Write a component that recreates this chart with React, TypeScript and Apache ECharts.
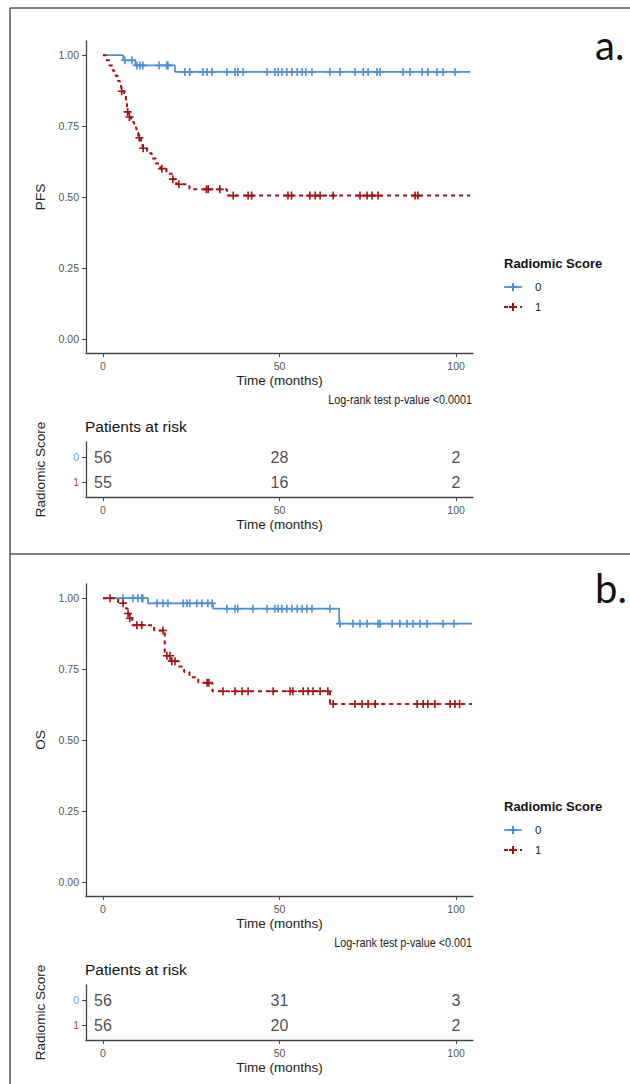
import { useEffect, useRef } from "react";
import * as echarts from "echarts";

// ---------- data ----------
const X_TICKS = [0, 50, 100];
const Y_TICKS = [0, 0.25, 0.5, 0.75, 1];
const RISK_TIMES = [0, 50, 100];
const GROUP_LABELS = ["0", "1"];

// PFS, Radiomic Score 0
const pfs0Times = [0, 5.7, 9.2, 20.4, 104];
const pfs0Surv = [1, 0.982, 0.964, 0.941, 0.941];
const pfs0Cens = [6.2, 8.2, 9.6, 10.5, 11.3, 15.9, 18.1, 18.4, 23.2, 24.6, 28.3, 29.5, 30.9, 35.1, 37.4, 38.2, 39.7, 46.5, 48.7, 49.6, 50.7, 52.1, 53.5, 55, 56.4, 57.5, 59.2, 64.3, 67.1, 71.4, 73.7, 75.1, 77.6, 78.5, 85, 87, 90.4, 92, 94.6, 96.3, 99.7];
// PFS, Radiomic Score 1
const pfs1Times = [0, 0.8, 1.8, 2.8, 3.6, 4.3, 4.8, 5.2, 6.0, 6.5, 6.8, 6.95, 7.3, 8.0, 8.8, 9.5, 10.0, 10.8, 11.2, 12.5, 13.8, 15.0, 16.3, 18.0, 19.5, 20.8, 24.5, 35.1, 104];
const pfs1Surv = [1, 0.982, 0.964, 0.945, 0.927, 0.909, 0.891, 0.873, 0.855, 0.836, 0.818, 0.8, 0.782, 0.764, 0.745, 0.727, 0.709, 0.69, 0.672, 0.654, 0.636, 0.618, 0.6, 0.582, 0.563, 0.545, 0.527, 0.505, 0.505];
const pfs1Cens = [5.3, 7.0, 7.5, 10.3, 11.4, 16.7, 19.8, 21.5, 29.3, 29.8, 33.1, 36.9, 41.1, 42.1, 52.4, 53.4, 58.6, 60.1, 61.5, 65.2, 72.8, 74.8, 76.2, 77.9, 88.4, 89.2];
const pfsRisk0 = [56, 28, 2];
const pfsRisk1 = [55, 16, 2];

// OS, Radiomic Score 0
const os0Times = [0, 12.8, 31.2, 66.9, 104.5];
const os0Surv = [1, 0.982, 0.963, 0.91, 0.91];
const os0Cens = [5.7, 8.5, 9.9, 11, 11.3, 15.3, 17, 18.4, 22.7, 23.8, 24.6, 26.6, 28, 29.7, 30.9, 35.1, 37.4, 38.2, 42.5, 46.5, 48.7, 49.6, 50.7, 52.1, 53.5, 55, 56.4, 57.8, 59.2, 64.3, 67.1, 70.8, 72.8, 74.8, 77.9, 78.5, 81.9, 84.1, 86.1, 87.8, 89.8, 91.8, 96.3, 99.4];
// OS, Radiomic Score 1
const os1Times = [0, 4.3, 6.5, 7.0, 7.5, 8.3, 14.5, 17.5, 19.3, 21.5, 23, 24.5, 27, 31, 64.3, 104.5];
const os1Surv = [1, 0.982, 0.964, 0.946, 0.929, 0.905, 0.886, 0.797, 0.778, 0.759, 0.74, 0.721, 0.702, 0.672, 0.627, 0.627];
const os1Cens = [2, 5.7, 7.1, 7.6, 9.6, 11, 17, 18.1, 19, 19.5, 20.4, 29.5, 30, 34, 37.4, 39.4, 41.1, 48.2, 53, 53.8, 56.7, 58.1, 59.5, 61.5, 63.7, 65.2, 71.4, 73.4, 75.1, 77.1, 89, 90.7, 92, 94, 98.3, 99.7, 101];
const osRisk0 = [56, 31, 3];
const osRisk1 = [56, 20, 2];

// ---------- styling ----------
const FONT = '"Liberation Sans", Arial, Helvetica, sans-serif';
const BLUE = "#4a8fd3";
const RED = "#a01212";
const AXIS = "#444";
const TICKTXT = "#555";
const PLUS = "path://M4,0 H6 V4 H10 V6 H6 V10 H4 V6 H0 V4 H4 Z";
const PANEL_OFFSET = 543;

function survAt(times: number[], surv: number[], t: number) {
  let s = surv[0];
  for (let i = 0; i < times.length; i++) if (times[i] <= t) s = surv[i];
  return s;
}

function xAxisCfg(gridIndex: number) {
  return {
    gridIndex,
    type: "value",
    min: -4.8,
    max: 104.8,
    name: "Time (months)",
    nameLocation: "middle",
    nameGap: 20,
    nameTextStyle: { fontSize: 13.5, color: "#222", fontFamily: FONT },
    axisLine: { show: true, onZero: false, lineStyle: { color: AXIS, width: 1.3 } },
    axisTick: { show: true, length: 4, customValues: X_TICKS, lineStyle: { color: AXIS, width: 1 } },
    axisLabel: { customValues: X_TICKS, fontSize: 10.5, color: TICKTXT, fontFamily: FONT, margin: 7 },
    splitLine: { show: false },
  };
}

function buildPanel(
  k: number,
  yName: string,
  t0: number[], s0: number[], c0: number[],
  t1: number[], s1: number[], c1: number[],
  r0: number[], r1: number[]
) {
  const off = k * PANEL_OFFSET;
  const gMain = k * 2;
  const gRisk = k * 2 + 1;
  const grids = [
    { left: 86, top: 41 + off, width: 387, height: 312 },
    { left: 86, top: 442 + off, width: 387, height: 55 },
  ];
  const xAxes = [xAxisCfg(gMain), xAxisCfg(gRisk)];
  const yAxes = [
    {
      gridIndex: gMain,
      type: "value",
      min: -0.05,
      max: 1.05,
      name: yName,
      nameLocation: "middle",
      nameGap: 39,
      nameTextStyle: { fontSize: 13.5, color: "#222", fontFamily: FONT },
      axisLine: { show: true, onZero: false, lineStyle: { color: AXIS, width: 1.3 } },
      axisTick: { show: true, length: 4, customValues: Y_TICKS, lineStyle: { color: AXIS, width: 1 } },
      axisLabel: {
        customValues: Y_TICKS,
        formatter: (v: number) => v.toFixed(2),
        fontSize: 10.5,
        color: TICKTXT,
        fontFamily: FONT,
        margin: 7,
      },
      splitLine: { show: false },
    },
    {
      gridIndex: gRisk,
      type: "value",
      min: 0.4,
      max: 2.6,
      name: "Radiomic Score",
      nameLocation: "middle",
      nameGap: 39,
      nameTextStyle: { fontSize: 13.5, color: "#222", fontFamily: FONT },
      axisLine: { show: true, onZero: false, lineStyle: { color: AXIS, width: 1.3 } },
      axisTick: { show: true, length: 4, customValues: [1, 2], lineStyle: { color: AXIS, width: 1 } },
      axisLabel: {
        customValues: [1, 2],
        formatter: (v: number) => (v === 2 ? "{a|" + GROUP_LABELS[0] + "}" : "{b|" + GROUP_LABELS[1] + "}"),
        margin: 7,
        rich: {
          a: { color: "#6aa5dc", fontSize: 10.5, fontFamily: FONT },
          b: { color: "#c0392b", fontSize: 10.5, fontFamily: FONT },
        },
      },
      splitLine: { show: false },
    },
  ];
  const riskLabel = {
    show: true,
    position: "inside",
    formatter: (p: any) => String(p.value[2]),
    fontSize: 16,
    color: "#1a1a1a",
    fontFamily: FONT,
  };
  const series: any[] = [
    {
      type: "line", xAxisIndex: gMain, yAxisIndex: gMain, step: "end", showSymbol: false,
      data: t0.map((t, i) => [t, s0[i]]),
      lineStyle: { color: BLUE, width: 1.7, type: "solid" }, z: 3,
    },
    {
      type: "line", xAxisIndex: gMain, yAxisIndex: gMain, step: "end", showSymbol: false,
      data: t1.map((t, i) => [t, s1[i]]),
      lineStyle: { color: RED, width: 2, type: [4, 4] }, z: 3,
    },
    {
      type: "scatter", xAxisIndex: gMain, yAxisIndex: gMain, symbol: PLUS, symbolSize: 8,
      data: c0.map((t) => [t, survAt(t0, s0, t)]),
      itemStyle: { color: BLUE, opacity: 1 }, z: 4,
    },
    {
      type: "scatter", xAxisIndex: gMain, yAxisIndex: gMain, symbol: PLUS, symbolSize: 8,
      data: c1.map((t) => [t, survAt(t1, s1, t)]),
      itemStyle: { color: RED, opacity: 1 }, z: 4,
    },
    {
      type: "scatter", xAxisIndex: gRisk, yAxisIndex: gRisk, symbolSize: 1,
      itemStyle: { color: "rgba(0,0,0,0)" },
      data: RISK_TIMES.map((t, i) => [t, 2, r0[i]]),
      label: riskLabel,
    },
    {
      type: "scatter", xAxisIndex: gRisk, yAxisIndex: gRisk, symbolSize: 1,
      itemStyle: { color: "rgba(0,0,0,0)" },
      data: RISK_TIMES.map((t, i) => [t, 1, r1[i]]),
      label: riskLabel,
    },
  ];
  return { grids, xAxes, yAxes, series };
}

function txt(x: number, y: number, text: string, extra: any = {}, el: any = {}) {
  return {
    type: "text",
    x,
    y,
    silent: true,
    ...el,
    style: {
      text,
      fill: "#222",
      fontFamily: FONT,
      fontSize: 12,
      align: "left",
      verticalAlign: "middle",
      ...extra,
    },
  };
}

function plusMark(cx: number, cy: number, color: string) {
  return [
    { type: "line", shape: { x1: cx - 4, y1: cy, x2: cx + 4, y2: cy }, style: { stroke: color, lineWidth: 2 } },
    { type: "line", shape: { x1: cx, y1: cy - 4, x2: cx, y2: cy + 4 }, style: { stroke: color, lineWidth: 2 } },
  ];
}

function panelGraphics(k: number, letter: string, pText: string) {
  const off = k * PANEL_OFFSET;
  const els: any[] = [];
  // legend
  els.push(txt(504, 263 + off, "Radiomic Score", { fontSize: 13, fontWeight: "bold", fill: "#111" }));
  els.push({ type: "line", shape: { x1: 504, y1: 287 + off, x2: 522, y2: 287 + off }, style: { stroke: BLUE, lineWidth: 1.7 } });
  els.push(...plusMark(513, 287 + off, BLUE));
  els.push(txt(535, 287 + off, GROUP_LABELS[0], { fontSize: 11.5 }));
  els.push({ type: "line", shape: { x1: 504, y1: 307 + off, x2: 522, y2: 307 + off }, style: { stroke: RED, lineWidth: 2, lineDash: [4, 4] } });
  els.push(...plusMark(513, 307 + off, RED));
  els.push(txt(535, 307 + off, GROUP_LABELS[1], { fontSize: 11.5 }));
  // p-value
  els.push(txt(472, 400 + off, pText, { fontSize: 12, align: "right", fill: "#222" }, { scaleX: 0.9 }));
  // risk title
  els.push(txt(85, 426 + off, "Patients at risk", { fontSize: 15.5, fill: "#111" }));
  // panel letter
  els.push(txt(595, 45 + off, letter, { fontSize: 40, fontFamily: "Lato, 'Open Sans', sans-serif", fill: "#111" }));
  return els;
}

export default function App() {
  const ref = useRef<HTMLDivElement>(null);
  useEffect(() => {
    document.body.style.margin = "0";
    if (!ref.current) return;
    const chart = echarts.init(ref.current, undefined, { renderer: "svg" });
    const a = buildPanel(0, "PFS", pfs0Times, pfs0Surv, pfs0Cens, pfs1Times, pfs1Surv, pfs1Cens, pfsRisk0, pfsRisk1);
    const b = buildPanel(1, "OS", os0Times, os0Surv, os0Cens, os1Times, os1Surv, os1Cens, osRisk0, osRisk1);
    const frame = [
      { type: "line", shape: { x1: 10, y1: 8, x2: 630, y2: 8 }, style: { stroke: "#555", lineWidth: 1.5 } },
      { type: "line", shape: { x1: 10, y1: 8, x2: 10, y2: 1084 }, style: { stroke: "#555", lineWidth: 1.5 } },
      { type: "line", shape: { x1: 10, y1: 554, x2: 630, y2: 554 }, style: { stroke: "#555", lineWidth: 1.5 } },
    ];
    chart.setOption({
      animation: false,
      backgroundColor: "#fff",
      grid: [...a.grids, ...b.grids],
      xAxis: [...a.xAxes, ...b.xAxes],
      yAxis: [...a.yAxes, ...b.yAxes],
      series: [...a.series, ...b.series],
      graphic: [
        ...frame,
        ...panelGraphics(0, "a.", "Log-rank test p-value <0.0001"),
        ...panelGraphics(1, "b.", "Log-rank test p-value <0.001"),
      ],
    });
    return () => chart.dispose();
  }, []);
  return <div ref={ref} style={{ width: 630, height: 1084 }} />;
}
